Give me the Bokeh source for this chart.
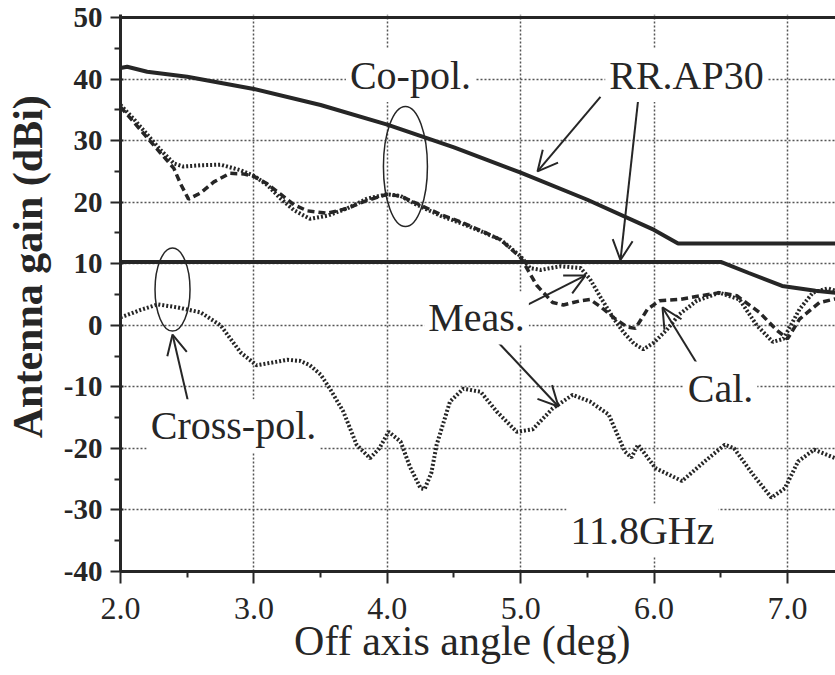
from bokeh.plotting import figure
from bokeh.models import Label, Arrow, OpenHead, FixedTicker, PrintfTickFormatter, Span, Range1d
from bokeh.embed import file_html
from bokeh.resources import INLINE

# ---- data ----
ap30_co_x = [2.0, 2.05, 2.2, 2.5, 3.0, 3.5, 4.0, 4.5, 5.0, 5.5, 6.0, 6.18, 7.36]
ap30_co_y = [41.8, 42.0, 41.2, 40.4, 38.4, 35.8, 32.6, 28.9, 24.8, 20.4, 15.5, 13.3, 13.3]

ap30_x_x = [2.0, 6.5, 6.71, 6.96, 7.21, 7.36]
ap30_x_y = [10.3, 10.3, 8.5, 6.4, 5.6, 5.3]

meas_co_x = [2.00, 2.10, 2.20, 2.30, 2.40, 2.47, 2.60, 2.75, 2.90, 3.00, 3.10, 3.20, 3.30, 3.42,
             3.55, 3.70, 3.85, 4.00, 4.10, 4.22, 4.40, 4.55, 4.70, 4.85, 5.00, 5.07, 5.15, 5.30,
             5.45, 5.52, 5.60, 5.70, 5.77, 5.85, 5.92, 6.00, 6.10, 6.19, 6.32, 6.49, 6.64, 6.77,
             6.89, 6.97, 7.09, 7.19, 7.30, 7.36]
meas_co_y = [35.8, 33.5, 31.0, 28.5, 26.3, 25.8, 26.0, 26.1, 25.2, 24.3, 22.8, 20.6, 18.7, 17.3,
             17.8, 19.0, 20.6, 21.3, 21.0, 19.6, 17.8, 16.6, 15.3, 13.9, 11.2, 9.3, 9.0, 9.6,
             9.3, 7.5, 4.5, 1.0, -1.1, -3.0, -3.9, -2.8, -0.6, 1.8, 4.0, 5.3, 4.2, 0.0,
             -2.7, -2.2, 2.6, 5.3, 6.0, 5.6]

cal_co_x = [2.00, 2.10, 2.20, 2.30, 2.40, 2.45, 2.51, 2.60, 2.70, 2.82, 2.92, 3.00, 3.10, 3.20,
            3.30, 3.40, 3.55, 3.70, 3.85, 4.00, 4.10, 4.22, 4.40, 4.55, 4.70, 4.85, 5.00, 5.12,
            5.24, 5.32, 5.45, 5.52, 5.60, 5.70, 5.80, 5.86, 5.95, 6.04, 6.19, 6.35, 6.49, 6.62,
            6.79, 6.92, 7.00, 7.09, 7.24, 7.36]
cal_co_y = [35.5, 33.0, 30.5, 28.0, 25.5, 23.0, 20.5, 21.5, 23.3, 24.7, 24.6, 24.2, 23.0, 21.3,
            19.6, 18.6, 18.2, 19.0, 20.3, 21.3, 21.0, 19.8, 18.0, 16.8, 15.4, 13.9, 11.0, 6.5,
            3.7, 3.3, 4.0, 4.2, 3.0, 1.2, -0.3, -0.5, 2.6, 4.0, 4.2, 4.8, 5.3, 4.8,
            2.1, -0.8, -2.2, 1.0, 3.7, 4.3]

meas_x_x = [2.00, 2.04, 2.15, 2.28, 2.43, 2.60, 2.75, 2.90, 3.02, 3.15, 3.25, 3.35, 3.42, 3.50,
            3.57, 3.67, 3.77, 3.87, 3.94, 4.01, 4.10, 4.17, 4.25, 4.28, 4.33, 4.37, 4.47, 4.57,
            4.70, 4.82, 4.97, 5.09, 5.24, 5.39, 5.52, 5.66, 5.78, 5.83, 5.88, 6.01, 6.21, 6.38,
            6.53, 6.60, 6.75, 6.88, 6.98, 7.08, 7.20, 7.36]
meas_x_y = [1.3, 1.6, 2.5, 3.4, 2.9, 2.1, 0.0, -4.4, -6.5, -6.0, -5.6, -5.8, -6.5, -8.0,
            -10.3, -14.0, -19.4, -21.6, -20.0, -17.3, -18.9, -23.0, -26.5, -26.6, -24.0, -19.4, -12.4, -10.3,
            -10.8, -14.0, -17.3, -16.9, -13.5, -11.3, -12.4, -14.5, -20.5, -21.5, -19.4, -23.2, -25.3, -22.1,
            -19.4, -20.0, -24.5, -28.0, -26.5, -22.1, -20.2, -21.6]

x_ticks = [2, 3, 4, 5, 6, 7]
x_minor = [2.5, 3.5, 4.5, 5.5, 6.5]
y_ticks = list(range(-40, 51, 10))
y_minor = list(range(-35, 50, 10))

INK = "#262626"
SERIF = "Liberation Serif"
TICK_FONT = "Times New Roman"
NB = "\u00a0"

p = figure(width=835, height=675, output_backend="svg", toolbar_location=None,
           x_range=Range1d(2.0, 7.36), y_range=Range1d(-40, 50.5),
           min_border_left=120, min_border_right=0, min_border_top=14, min_border_bottom=104)
p.outline_line_color = None
p.background_fill_color = "white"

xa = p.xaxis[0]
ya = p.yaxis[0]

for ax in (xa, ya):
    ax.axis_line_width = 3
    ax.axis_line_color = INK
    ax.major_tick_line_width = 2
    ax.major_tick_line_color = INK
    ax.minor_tick_line_width = 2
    ax.minor_tick_line_color = INK
    ax.major_label_text_color = INK
    ax.axis_label_text_color = INK
    ax.major_label_text_font = TICK_FONT
    ax.axis_label_text_font = SERIF

xa.ticker = FixedTicker(ticks=x_ticks, minor_ticks=x_minor)
ya.ticker = FixedTicker(ticks=y_ticks, minor_ticks=y_minor)
xa.formatter = PrintfTickFormatter(format="%.1f")
ya.major_label_overrides = {t: str(t) for t in y_ticks}   # ASCII hyphen for negatives

xa.major_tick_out = 12
xa.major_tick_in = 0
xa.minor_tick_out = 6
xa.minor_tick_in = 0
xa.major_label_standoff = 14
xa.major_label_text_font_size = "32px"
xa.major_label_text_font_style = "normal"
xa.axis_label = "Off axis angle (deg)" + NB * 3
xa.axis_label_text_font_size = "42px"
xa.axis_label_text_font_style = "normal"
xa.axis_label_standoff = -4

ya.major_tick_out = 10
ya.major_tick_in = 3
ya.minor_tick_out = 6
ya.minor_tick_in = 0
ya.major_label_standoff = 8
ya.major_label_text_font_size = "29px"
ya.major_label_text_font_style = "bold"
ya.axis_label = NB * 5 + "Antenna gain (dBi)"
ya.axis_label_text_font_size = "42px"
ya.axis_label_text_font_style = "bold"
ya.axis_label_standoff = 10

for g in (p.xgrid, p.ygrid):
    g.grid_line_color = "#555555"
    g.grid_line_width = 1.5
    g.grid_line_dash = "2 2"

p.add_layout(Span(location=50, dimension="width", line_color=INK, line_width=3))

# curves
p.line(ap30_co_x, ap30_co_y, line_color=INK, line_width=4)
p.line(ap30_x_x, ap30_x_y, line_color=INK, line_width=4)
p.line(cal_co_x, cal_co_y, line_color=INK, line_width=3.5, line_dash="7 4")
p.line(meas_co_x, meas_co_y, line_color=INK, line_width=4, line_dash="2 2")
p.line(meas_x_x, meas_x_y, line_color=INK, line_width=4, line_dash="2 2")

# ellipses
p.ellipse(x=[4.136], y=[25.8], width=44, height=120, width_units="screen", height_units="screen",
          fill_color=None, line_color=INK, line_width=1.5)
p.ellipse(x=[2.39], y=[5.8], width=35, height=83, width_units="screen", height_units="screen",
          fill_color=None, line_color=INK, line_width=1.5)

# arrows
arrows = [
    (5.598, 37.1, 5.126, 25.0),
    (5.883, 37.1, 5.748, 10.6),
    (5.013, 2.9, 5.486, 8.1),
    (4.811, -2.3, 5.283, -13.2),
    (6.333, -6.6, 6.063, 2.9),
    (2.51, -12.7, 2.39, -1.5),
]
for x0, y0, x1, y1 in arrows:
    p.add_layout(Arrow(end=OpenHead(size=20, line_width=2, line_color=INK),
                       x_start=x0, y_start=y0, x_end=x1, y_end=y1,
                       line_width=2, line_color=INK))

# text labels
labels = [
    ("Co-pol.", 4.174, 40.6),
    ("RR.AP30", 6.243, 40.6),
    ("Meas.", 4.669, 1.2),
    ("Cal.", 6.498, -10.2),
    ("Cross-pol.", 2.847, -16.3),
    ("11.8GHz", 5.913, -33.3),
]
for t, x, y in labels:
    p.add_layout(Label(x=x, y=y, text=t, text_font=SERIF, text_font_size="40px",
                       text_color=INK, text_align="center", text_baseline="middle",
                       background_fill_color="white", padding=4))

open("out.html", "w").write(file_html(p, INLINE))
